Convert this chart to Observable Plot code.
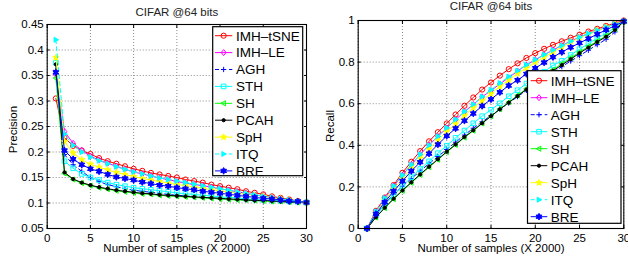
<!DOCTYPE html>
<html><head><meta charset="utf-8">
<script src="https://cdn.jsdelivr.net/npm/d3@7"></script>
<script src="https://cdn.jsdelivr.net/npm/@observablehq/plot@0.6"></script>
<style>
body{margin:0;background:#fff;}
#wrap{display:flex;width:628px;height:259px;overflow:hidden;}
#wrap svg{display:block;flex:none;}
</style></head><body><div id="wrap"></div>
<script>
const title = "CIFAR @64 bits";
const xLabel = "Number of samples (X 2000)";
const samples = [1,2,3,4,5,6,7,8,9,10,11,12,13,14,15,16,17,18,19,20,21,22,23,24,25,26,27,28,29,30];
const xTicks = [0,5,10,15,20,25,30];
const precTicks = [0.05,0.1,0.15,0.2,0.25,0.3,0.35,0.4,0.45];
const recTicks = [0,0.2,0.4,0.6,0.8,1];
const methods = ["IMH–tSNE","IMH–LE","AGH","STH","SH","PCAH","SpH","ITQ","BRE"];

// Precision @ number of samples
const precIMHtSNE = [0.305,0.228,0.212,0.203,0.196,0.188,0.182,0.177,0.172,0.167,0.163,0.159,0.156,0.153,0.150,0.146,0.143,0.140,0.136,0.133,0.130,0.127,0.123,0.120,0.117,0.113,0.110,0.107,0.104,0.101];
const precIMHLE   = [0.352,0.240,0.217,0.203,0.192,0.184,0.178,0.172,0.166,0.161,0.157,0.153,0.149,0.146,0.142,0.139,0.136,0.134,0.131,0.128,0.125,0.122,0.119,0.116,0.114,0.111,0.108,0.106,0.103,0.101];
const precAGH     = [0.360,0.195,0.175,0.162,0.150,0.142,0.136,0.132,0.128,0.125,0.123,0.121,0.119,0.117,0.115,0.114,0.112,0.111,0.110,0.109,0.108,0.107,0.106,0.105,0.104,0.103,0.103,0.102,0.101,0.101];
const precSTH     = [0.375,0.182,0.168,0.157,0.150,0.145,0.140,0.136,0.133,0.130,0.128,0.126,0.124,0.122,0.120,0.118,0.117,0.115,0.114,0.112,0.111,0.110,0.108,0.107,0.106,0.105,0.104,0.103,0.102,0.101];
const precSH      = [0.345,0.158,0.146,0.139,0.134,0.130,0.127,0.124,0.122,0.120,0.118,0.117,0.115,0.114,0.113,0.112,0.111,0.110,0.109,0.108,0.107,0.106,0.106,0.105,0.104,0.103,0.103,0.102,0.101,0.101];
const precPCAH    = [0.372,0.160,0.147,0.140,0.135,0.131,0.128,0.125,0.123,0.121,0.119,0.118,0.116,0.115,0.114,0.113,0.112,0.111,0.110,0.109,0.108,0.107,0.106,0.105,0.105,0.104,0.103,0.102,0.102,0.101];
const precSpH     = [0.385,0.220,0.198,0.185,0.176,0.170,0.165,0.160,0.156,0.152,0.148,0.145,0.142,0.139,0.136,0.134,0.131,0.129,0.126,0.124,0.121,0.119,0.117,0.115,0.113,0.110,0.108,0.106,0.103,0.101];
const precITQ     = [0.420,0.235,0.213,0.200,0.190,0.183,0.177,0.171,0.166,0.161,0.157,0.153,0.149,0.146,0.143,0.140,0.137,0.134,0.131,0.128,0.125,0.122,0.119,0.116,0.113,0.111,0.108,0.106,0.103,0.101];
const precBRE     = [0.356,0.203,0.186,0.175,0.167,0.162,0.156,0.151,0.148,0.145,0.141,0.138,0.135,0.133,0.130,0.128,0.126,0.123,0.121,0.119,0.117,0.115,0.113,0.111,0.109,0.108,0.106,0.104,0.103,0.101];

// Recall @ number of samples
const recIMHtSNE = [0,0.085,0.149,0.209,0.268,0.321,0.372,0.419,0.463,0.505,0.548,0.590,0.630,0.668,0.702,0.735,0.766,0.794,0.820,0.843,0.864,0.883,0.900,0.917,0.932,0.947,0.960,0.974,0.987,1.0];
const recIMHLE   = [0,0.080,0.145,0.203,0.256,0.307,0.356,0.401,0.443,0.483,0.523,0.561,0.596,0.633,0.663,0.695,0.725,0.757,0.786,0.811,0.835,0.858,0.880,0.900,0.921,0.937,0.952,0.968,0.983,0.995];
const recAGH     = [0,0.066,0.118,0.164,0.203,0.240,0.276,0.312,0.346,0.380,0.415,0.449,0.482,0.513,0.543,0.575,0.603,0.634,0.664,0.694,0.722,0.751,0.778,0.805,0.831,0.857,0.884,0.910,0.945,0.995];
const recSTH     = [0,0.062,0.114,0.160,0.204,0.247,0.286,0.323,0.362,0.398,0.436,0.471,0.506,0.540,0.571,0.602,0.636,0.665,0.697,0.723,0.754,0.784,0.806,0.834,0.862,0.889,0.914,0.940,0.965,0.995];
const recSH      = [0,0.053,0.098,0.141,0.181,0.220,0.258,0.295,0.331,0.367,0.402,0.437,0.470,0.505,0.540,0.574,0.607,0.640,0.672,0.703,0.733,0.763,0.792,0.820,0.848,0.875,0.901,0.926,0.958,0.995];
const recPCAH    = [0,0.054,0.100,0.143,0.183,0.222,0.260,0.297,0.333,0.369,0.404,0.440,0.472,0.506,0.540,0.573,0.605,0.637,0.668,0.699,0.729,0.758,0.786,0.814,0.843,0.870,0.897,0.922,0.955,0.995];
const recSpH     = [0,0.075,0.135,0.190,0.240,0.289,0.337,0.381,0.424,0.465,0.503,0.543,0.580,0.614,0.648,0.683,0.713,0.745,0.771,0.800,0.823,0.849,0.873,0.897,0.917,0.934,0.952,0.968,0.983,0.995];
const recITQ     = [0,0.082,0.146,0.204,0.256,0.307,0.356,0.400,0.443,0.484,0.524,0.562,0.597,0.634,0.667,0.699,0.730,0.759,0.787,0.812,0.836,0.858,0.880,0.900,0.920,0.937,0.953,0.968,0.983,0.995];
const recBRE     = [0,0.070,0.127,0.179,0.228,0.276,0.319,0.360,0.404,0.445,0.481,0.518,0.553,0.589,0.621,0.655,0.687,0.713,0.743,0.771,0.798,0.824,0.848,0.871,0.892,0.913,0.934,0.955,0.975,0.995];

const precSeries = [precIMHtSNE,precIMHLE,precAGH,precSTH,precSH,precPCAH,precSpH,precITQ,precBRE];
const recSeries  = [recIMHtSNE,recIMHLE,recAGH,recSTH,recSH,recPCAH,recSpH,recITQ,recBRE];

// ---- marker shapes (MATLAB-like) ----
function poly(pts){return {draw(ctx,size){const r=Math.sqrt(size/Math.PI);pts.forEach(([a,b],i)=>i?ctx.lineTo(a*r,b*r):ctx.moveTo(a*r,b*r));ctx.closePath();}};}
const triRight = poly([[1.15,0],[-0.75,-1.05],[-0.75,1.05]]);
const triLeft  = poly([[-1.15,0],[0.75,-1.05],[0.75,1.05]]);
const diamond  = poly([[0,-1.25],[1.0,0],[0,1.25],[-1.0,0]]);
const square   = poly([[-0.95,-0.95],[0.95,-0.95],[0.95,0.95],[-0.95,0.95]]);
const plusSym  = {draw(ctx,size){const r=Math.sqrt(size/Math.PI)*1.2;ctx.moveTo(-r,0);ctx.lineTo(r,0);ctx.moveTo(0,-r);ctx.lineTo(0,r);}};
function starPts(n,ro,ri){const p=[];for(let k=0;k<2*n;k++){const a=-Math.PI/2+k*Math.PI/n;const rr=k%2?ri:ro;p.push([Math.cos(a)*rr,Math.sin(a)*rr]);}return p;}
const pentagram = poly(starPts(5,1.5,0.6));
const hexagram  = poly(starPts(6,1.45,0.8));

const styles = [
  {color:"#ff0000", symbol:"circle", fill:"none", r:2.6},
  {color:"#ff00ff", symbol:diamond, fill:"none", r:2.4},
  {color:"#0000ff", symbol:plusSym, fill:"none", r:2.2, dash:"4,3"},
  {color:"#00ffff", symbol:square, fill:"none", r:2.4},
  {color:"#00ff00", symbol:triLeft, fill:"none", r:2.4},
  {color:"#000000", symbol:"circle", fill:"#000000", r:1.6},
  {color:"#ffff00", symbol:pentagram, fill:"#ffff00", r:2.2},
  {color:"#00ffff", symbol:triRight, fill:"#00ffff", r:2.4, dash:"4,3"},
  {color:"#0000ff", symbol:hexagram, fill:"#0000ff", r:2.3}
];

const FONT = "'Liberation Sans', Arial, Helvetica, sans-serif";

function makeChart(series, opts){
  const marks = [];
  marks.push(Plot.gridX(xTicks, {stroke:"#8a8a8a", strokeOpacity:1, strokeDasharray:"1,2"}));
  marks.push(Plot.gridY(opts.yTicks, {stroke:"#8a8a8a", strokeOpacity:1, strokeDasharray:"1,2"}));
  series.forEach((vals, i) => {
    const st = styles[i];
    const data = samples.map((x, j) => ({x, y: vals[j]}));
    marks.push(Plot.line(data, {x:"x", y:"y", stroke:st.color, strokeWidth:1, strokeDasharray:st.dash || null}));
    marks.push(Plot.dot(data, {x:"x", y:"y", r:st.r, symbol:st.symbol, stroke:st.color, fill:st.fill, strokeWidth:1}));
  });
  marks.push(Plot.frame({stroke:"#000", strokeWidth:1.1}));
  marks.push(Plot.axisX(xTicks, {tickSize:-3, tickPadding:8, label:null, fontSize:11.5, fill:"#000"}));
  marks.push(Plot.axisX(xTicks, {anchor:"top", tickSize:-3, tickFormat:() => "", label:null}));
  marks.push(Plot.axisY(opts.yTicks, {tickSize:-3, tickPadding:6.5, label:null, fontSize:11.5, fill:"#000", tickFormat:d3.format("~g")}));
  marks.push(Plot.axisY(opts.yTicks, {anchor:"right", tickSize:-3, tickFormat:() => "", label:null}));
  marks.push(Plot.text([title], {frameAnchor:"top", dy:opts.titleDy, lineAnchor:"middle", textAnchor:"middle", fontSize:11.5, fill:"#222"}));
  marks.push(Plot.text([xLabel], {frameAnchor:"bottom", dy:20.3, lineAnchor:"middle", textAnchor:"middle", fontSize:11.5, fill:"#000"}));
  marks.push(Plot.text([opts.yLabel], {frameAnchor:"left", dx:opts.yLabelDx, dy:opts.yLabelDy, rotate:-90, lineAnchor:"middle", textAnchor:"middle", fontSize:11.5, fill:"#000"}));
  const svg = Plot.plot({
    width:314, height:259,
    marginLeft:opts.ml, marginRight:opts.mr, marginTop:opts.mt, marginBottom:31,
    x:{domain:[0,30]},
    y:{domain:opts.yDomain},
    style:{fontFamily:FONT, background:"#fff", color:"#000", overflow:"visible"},
    marks
  });
  // legend box (MATLAB style)
  const L = opts.legend;
  const g = d3.select(svg).append("g").attr("class","legend").attr("text-anchor","start");
  g.append("rect").attr("x",L.x).attr("y",L.y).attr("width",L.w).attr("height",L.h)
    .attr("fill","#fff").attr("stroke","#000").attr("stroke-width",1.2);
  methods.forEach((name, i) => {
    const st = styles[i];
    const cy = L.y0 + i*L.step;
    g.append("line").attr("x1",L.lx1).attr("x2",L.lx2).attr("y1",cy).attr("y2",cy)
      .attr("stroke",st.color).attr("stroke-width",1).attr("stroke-dasharray",st.dash || null);
    const sym = typeof st.symbol === "string" ? d3.symbolCircle : st.symbol;
    g.append("path").attr("d", d3.symbol(sym, Math.PI*st.r*st.r)())
      .attr("transform",`translate(${(L.lx1+L.lx2)/2},${cy})`)
      .attr("fill",st.fill).attr("stroke",st.color).attr("stroke-width",1);
    g.append("text").attr("x",L.tx).attr("y",cy).attr("dy","0.36em").attr("text-anchor","start")
      .attr("font-size",13.5).attr("font-family",FONT).attr("fill","#000").text(name);
  });
  return svg;
}

const wrap = document.getElementById("wrap");
wrap.appendChild(makeChart(precSeries, {
  yDomain:[0.05,0.45], yTicks:precTicks, yLabel:"Precision",
  ml:46.7, mr:8, mt:24, titleDy:-12, yLabelDx:-33.4, yLabelDy:3,
  legend:{x:212.7, y:26.7, w:90, h:149, y0:35.7, step:16.9, lx1:215, lx2:232.3, tx:236}
}));
wrap.appendChild(makeChart(recSeries, {
  yDomain:[0,1], yTicks:recTicks, yLabel:"Recall",
  ml:43.7, mr:4.7, mt:20, titleDy:-14, yLabelDx:-27.7, yLabelDy:1.5,
  legend:{x:213.5, y:70.7, w:93.5, h:152.6, y0:80.7, step:17, lx1:216.7, lx2:233.3, tx:236.7}
}));
</script></body></html>
